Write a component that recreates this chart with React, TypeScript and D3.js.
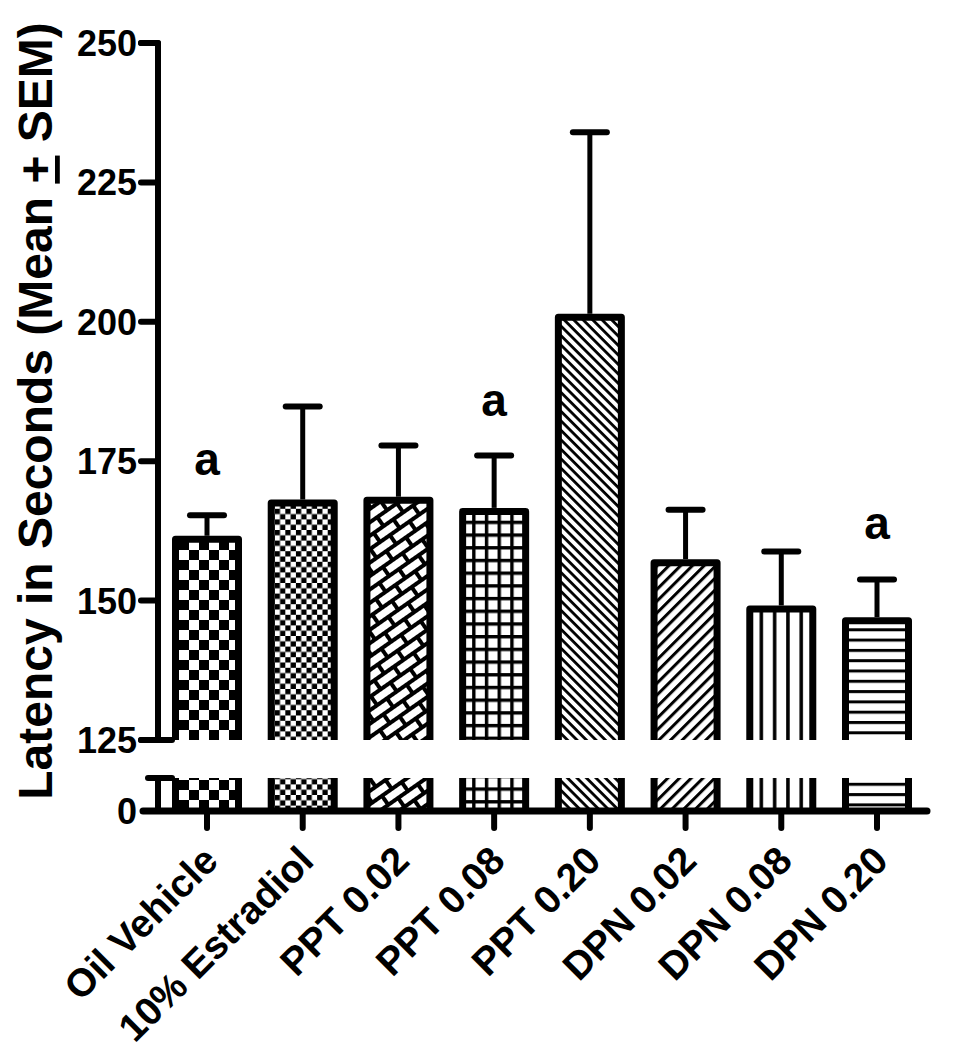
import React from "react";
import * as d3 from "d3";

const categories = [
  "Oil Vehicle",
  "10% Estradiol",
  "PPT 0.02",
  "PPT 0.08",
  "PPT 0.20",
  "DPN 0.02",
  "DPN 0.08",
  "DPN 0.20",
];
const means = [161, 167.5, 168, 166, 200.8, 156.8, 148.5, 146.4];
const sems = [4.3, 17.3, 9.8, 10, 33.2, 9.5, 10.3, 7.4];
const sigLabels = ["a", "", "", "a", "", "", "", "a"];
const upperTicks = [125, 150, 175, 200, 225, 250];
const lowerTicks = [0];

const FONT = "'Liberation Sans', Arial, Helvetica, sans-serif";

function PatternDef({ i, cx }: { i: number; cx: number }) {
  const id = `pat${i}`;
  const left = cx - 28;
  switch (i) {
    case 0:
      return (
        <pattern id={id} patternUnits="userSpaceOnUse" x={left} y={0} width={20} height={20}>
          <rect width={20} height={20} fill="#fff" />
          <rect x={0} y={0} width={10} height={10} fill="#000" />
          <rect x={10} y={10} width={10} height={10} fill="#000" />
        </pattern>
      );
    case 1:
      return (
        <pattern id={id} patternUnits="userSpaceOnUse" x={left} y={0} width={10.6} height={10.6}>
          <rect width={10.6} height={10.6} fill="#fff" />
          <rect x={0} y={0} width={5.3} height={5.3} fill="#000" />
          <rect x={5.3} y={5.3} width={5.3} height={5.3} fill="#000" />
        </pattern>
      );
    case 2:
      return (
        <pattern id={id} patternUnits="userSpaceOnUse" x={left} y={0} width={24} height={22} patternTransform="rotate(-35)">
          <rect width={24} height={22} fill="#fff" />
          <rect x={0} y={0} width={24} height={4} fill="#000" />
          <rect x={0} y={11} width={24} height={4} fill="#000" />
          <rect x={0} y={4} width={4} height={7} fill="#000" />
          <rect x={12} y={15} width={4} height={7} fill="#000" />
        </pattern>
      );
    case 3:
      return (
        <pattern id={id} patternUnits="userSpaceOnUse" x={left + 6} y={0} width={12.7} height={12.7}>
          <rect width={12.7} height={12.7} fill="#fff" />
          <rect x={0} y={0} width={12.7} height={3.4} fill="#000" />
          <rect x={0} y={0} width={3.4} height={12.7} fill="#000" />
        </pattern>
      );
    case 4:
      return (
        <pattern id={id} patternUnits="userSpaceOnUse" x={0} y={0} width={10} height={6.7} patternTransform="rotate(45)">
          <rect width={10} height={6.7} fill="#fff" />
          <rect x={0} y={0} width={10} height={2.8} fill="#000" />
        </pattern>
      );
    case 5:
      return (
        <pattern id={id} patternUnits="userSpaceOnUse" x={0} y={0} width={10} height={8.3} patternTransform="rotate(-45)">
          <rect width={10} height={8.3} fill="#fff" />
          <rect x={0} y={0} width={10} height={3} fill="#000" />
        </pattern>
      );
    case 6:
      return (
        <pattern id={id} patternUnits="userSpaceOnUse" x={cx} y={0} width={13.3} height={10}>
          <rect width={13.3} height={10} fill="#fff" />
          <rect x={4.9} y={0} width={3.5} height={10} fill="#000" />
        </pattern>
      );
    default:
      return (
        <pattern id={id} patternUnits="userSpaceOnUse" x={0} y={0} width={10} height={10.3}>
          <rect width={10} height={10.3} fill="#fff" />
          <rect x={0} y={0} width={10} height={3} fill="#000" />
        </pattern>
      );
  }
}

export default function App() {
  const W = 954;
  const H = 1050;
  const x = d3.scalePoint<string>().domain(categories).range([207, 877]);
  const yU = d3.scaleLinear().domain([125, 250]).range([740, 43]);
  const yL = d3.scaleLinear().domain([0, 10]).range([811, 778]);
  const axisX = 158;
  const barW = 63;
  const sw = 7;
  const uBottom = yU(125);
  const lTop = yL(10);
  const lBottom = yL(0);

  return (
    <svg
      width={W}
      height={H}
      viewBox={`0 0 ${W} ${H}`}
      style={{ position: "absolute", left: 0, top: 0, background: "#fff" }}
      fontFamily={FONT}
      fontWeight="bold"
    >
      <defs>
        {categories.map((c, i) => (
          <PatternDef key={c} i={i} cx={x(c)!} />
        ))}
      </defs>
      <rect width={W} height={H} fill="#fff" />

      {/* bars */}
      {categories.map((c, i) => {
        const cx = x(c)!;
        const l = cx - barW / 2;
        const r = cx + barW / 2;
        const top = yU(means[i]);
        return (
          <g key={c}>
            <rect x={l} y={top} width={barW} height={uBottom - top} fill={`url(#pat${i})`} />
            <path
              d={`M${l},${uBottom} L${l},${top} L${r},${top} L${r},${uBottom}`}
              fill="none"
              stroke="#000"
              strokeWidth={sw}
              strokeLinejoin="round"
            />
            <rect x={l} y={lTop} width={barW} height={lBottom - lTop} fill={`url(#pat${i})`} />
            <path
              d={`M${l},${lTop} L${l},${lBottom} M${r},${lTop} L${r},${lBottom}`}
              fill="none"
              stroke="#000"
              strokeWidth={sw}
            />
            {/* error bar */}
            <line
              x1={cx}
              x2={cx}
              y1={top - sw / 2}
              y2={yU(means[i] + sems[i])}
              stroke="#000"
              strokeWidth={5}
            />
            <line
              x1={cx - 17}
              x2={cx + 17}
              y1={yU(means[i] + sems[i])}
              y2={yU(means[i] + sems[i])}
              stroke="#000"
              strokeWidth={6}
              strokeLinecap="round"
            />
            {sigLabels[i] && (
              <text
                x={cx}
                y={yU(means[i] + sems[i]) - 40}
                textAnchor="middle"
                fontSize={46}
              >
                {sigLabels[i]}
              </text>
            )}
          </g>
        );
      })}

      {/* y axis upper */}
      <path
        d={`M141,${yU(250)} L${axisX},${yU(250)} L${axisX},${uBottom}`}
        fill="none"
        stroke="#000"
        strokeWidth={6}
        strokeLinejoin="round"
        strokeLinecap="round"
      />
      {upperTicks.map((t) => (
        <g key={t}>
          <line x1={141} x2={axisX} y1={yU(t)} y2={yU(t)} stroke="#000" strokeWidth={6} strokeLinecap="round" />
          <text x={137} y={yU(t)} dy="0.36em" textAnchor="end" fontSize={36}>
            {t}
          </text>
        </g>
      ))}
      {/* break marks */}
      <line x1={141} x2={172} y1={uBottom} y2={uBottom} stroke="#000" strokeWidth={6} strokeLinecap="round" />
      <line x1={148} x2={172} y1={lTop} y2={lTop} stroke="#000" strokeWidth={6} strokeLinecap="round" />
      {/* y axis lower */}
      <line x1={axisX} x2={axisX} y1={lTop} y2={lBottom} stroke="#000" strokeWidth={6} />
      {lowerTicks.map((t) => (
        <text key={t} x={137} y={yL(t)} dy="0.36em" textAnchor="end" fontSize={36}>
          {t}
        </text>
      ))}

      {/* x axis */}
      <line x1={143} x2={927} y1={lBottom} y2={lBottom} stroke="#000" strokeWidth={7} strokeLinecap="round" />
      {categories.map((c) => (
        <g key={c}>
          <line x1={x(c)!} x2={x(c)!} y1={lBottom} y2={828} stroke="#000" strokeWidth={6} strokeLinecap="round" />
          <text
            transform={`translate(${x(c)! + 13},${863}) rotate(-45)`}
            textAnchor="end"
            fontSize={39}
          >
            {c}
          </text>
        </g>
      ))}

      {/* y title */}
      <text transform="translate(52,411) rotate(-90)" textAnchor="middle" fontSize={48}>
        Latency in Seconds (Mean <tspan textDecoration="underline" style={{ textDecoration: "underline" }}>+</tspan> SEM)
      </text>
    </svg>
  );
}
